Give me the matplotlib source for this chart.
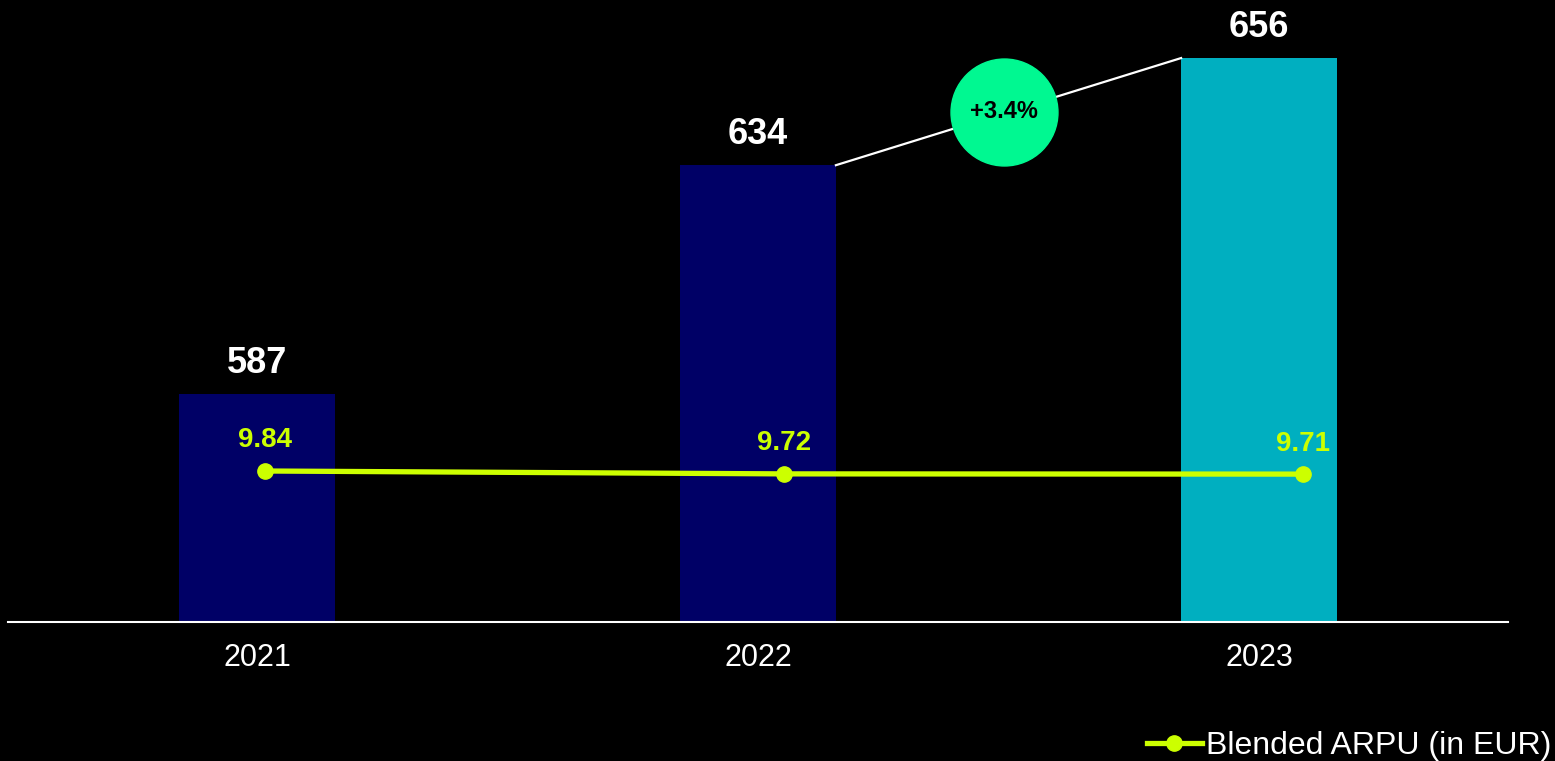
import matplotlib.pyplot as plt
import numpy as np

plt.rcParams['font.family'] = ['Liberation Sans', 'DejaVu Sans']

years = ['2021', '2022', '2023']
subscribers = [587, 634, 656]  # bar values
arpu = [9.84, 9.72, 9.71]  # Blended ARPU (in EUR)
growth_label = '+3.4%'
bar_colors = ['#000066', '#000066', '#00AFC0']
line_color = '#CCFF00'

fig = plt.figure(figsize=(15.55, 7.61), dpi=100, facecolor='black')
ax = fig.add_axes([8 / 1555, 139 / 761, 1500 / 1555, 602 / 761])
ax.set_facecolor('black')

x = np.arange(len(years))
w = 0.311
ax.bar(x, subscribers, width=w, color=bar_colors, zorder=2)
ax.set_xlim(-0.497, 2.497)
ax.set_ylim(540.2, 540.2 + 602 / 4.87)

for xi, v in zip(x, subscribers):
    ax.annotate(str(v), (xi, v), xytext=(0, 15), textcoords='offset points',
                ha='center', va='baseline', color='white', fontsize=26, fontweight='bold')

# connector 2022 -> 2023 with growth bubble
ax.plot([1 + w / 2, 2 - w / 2], [subscribers[1], subscribers[2]], color='white', lw=1.6, zorder=3)
bx, by = 1.491, 645
ax.plot(bx, by, 'o', ms=77, color='#00F891', zorder=4)
ax.text(bx, by, growth_label, ha='center', va='center',
        color='black', fontsize=17, fontweight='bold', zorder=5)

ax.set_xticks(x)
ax.set_xticklabels(years, color='white', fontsize=22)
ax.tick_params(axis='x', length=0, pad=15)
ax.set_yticks([])
for s in ['top', 'left', 'right']:
    ax.spines[s].set_visible(False)
ax.spines['bottom'].set_color('white')
ax.spines['bottom'].set_linewidth(1.5)

# ARPU line on its own axes
ax2 = fig.add_axes(ax.get_position(), frameon=False)
ax2.set_xlim(-0.495, 2.395)
ax2.set_ylim(9.84 - 151 / 24, 9.84 - 151 / 24 + 602 / 24)
line, = ax2.plot(x, arpu, '-o', color=line_color, lw=3.8, ms=11, label='Blended ARPU (in EUR)', zorder=6)
for xi, v in zip(x, arpu):
    ax2.annotate(f'{v:.2f}', (xi, v), xytext=(0, 17), textcoords='offset points',
                 ha='center', va='baseline', color=line_color, fontsize=20, fontweight='bold')
ax2.set_xticks([])
ax2.set_yticks([])

leg = fig.legend(handles=[line], loc='lower right', bbox_to_anchor=(1551 / 1555, 0 / 761),
                 frameon=False, fontsize=23, handlelength=1.72, handletextpad=0.12,
                 borderpad=0, borderaxespad=0)
for t in leg.get_texts():
    t.set_color('white')

fig.savefig('out.png', dpi=100, facecolor='black')
